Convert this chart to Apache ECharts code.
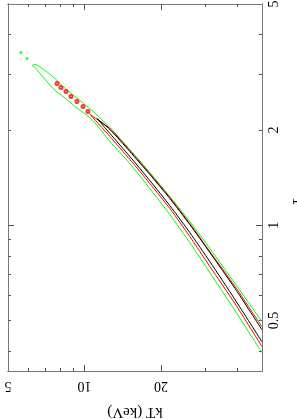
<!DOCTYPE html>
<html><head><meta charset="utf-8">
<script src="https://cdn.jsdelivr.net/npm/echarts@6/dist/echarts.min.js"></script>
<style>html,body{margin:0;padding:0;background:#fff}#c{width:297px;height:419px}</style>
</head><body><div id="c"></div>
<script>
// ---- axis ticks / labels ----
const kTLabels = [5, 10, 20];
const kTMajorTicks = [10, 20];
const kTMinorTicks = [6, 7, 8, 9, 30, 40];
const tauLabels = [0.5, 1, 2, 5];
const tauMajorTicks = [1];
const tauMinorTicks = [0.4, 0.5, 0.6, 0.7, 0.8, 0.9, 2, 3, 4];

// ---- green (outer) contour ----
const greenKT       = [6.39, 6.99, 7.66, 8.23, 9.18, 10.71, 12.6, 15.1, 18.1, 21.7, 26.0, 31.2, 39.2, 50];
const greenUpperTau = [3.221, 3.083, 2.908, 2.744, 2.551, 2.303, 2.035, 1.734, 1.466, 1.231, 1.026, 0.843, 0.653, 0.495];
const greenLowerTau = [3.151, 2.887, 2.665, 2.551, 2.371, 2.158, 1.838, 1.565, 1.305, 1.080, 0.880, 0.707, 0.536, 0.395];
const greenTip = [6.22, 3.197];
const greenIslands = [[5.62, 3.515], [5.94, 3.365]];

// ---- red (middle) contour ----
const redKT       = [12.6, 15.1, 18.1, 21.7, 26.0, 31.2, 39.2, 50];
const redUpperTau = [2.020, 1.721, 1.455, 1.222, 1.011, 0.824, 0.639, 0.477];
const redLowerTau = [1.906, 1.612, 1.353, 1.128, 0.920, 0.739, 0.564, 0.413];
const redTip = [10.52, 2.237];
const redIslands = [[7.80, 2.804], [8.08, 2.723], [8.46, 2.646], [8.85, 2.551], [9.34, 2.460], [9.87, 2.371], [10.32, 2.287]];

// ---- black (inner) contour ----
const blackKT       = [12.6, 15.1, 18.1, 21.7, 26.0, 31.2, 39.2, 50];
const blackUpperTau = [2.005, 1.708, 1.445, 1.213, 1.004, 0.818, 0.630, 0.467];
const blackLowerTau = [1.948, 1.647, 1.383, 1.152, 0.947, 0.766, 0.581, 0.428];
const blackTip = [11.2, 2.173];

function contour(kts, up, lo, tip) {
  const pts = [];
  for (let i = kts.length - 1; i >= 0; i--) pts.push([kts[i], up[i]]);
  pts.push(tip);
  for (let i = 0; i < kts.length; i++) pts.push([kts[i], lo[i]]);
  return pts;
}

const FONT = 'Liberation Serif';
const frameColor = '#777';
const tickColor = '#555';
const kTRange = {min: 5, max: 50};
const tauRange = {min: 0.346, max: 5};

function xAx(position, ticks, len, labels) {
  const a = {
    type: 'log', logBase: 10, min: kTRange.min, max: kTRange.max, position: position,
    axisLine: {show: true, onZero: false, lineStyle: {color: frameColor, width: 1}},
    splitLine: {show: false}, minorTick: {show: false},
    axisTick: {show: true, inside: true, length: len, customValues: ticks, lineStyle: {color: tickColor, width: 1}},
    axisLabel: {show: false}
  };
  if (labels) {
    a.axisLabel = {show: true, customValues: labels, rotate: 180, margin: 8,
      fontFamily: FONT, fontSize: 14, color: '#000', formatter: v => String(v)};
    a.name = 'kT (keV)';
    a.nameLocation = 'middle';
    a.nameRotate = 180;
    a.nameGap = 33;
    a.nameTextStyle = {fontFamily: FONT, fontSize: 15, color: '#000'};
  }
  return a;
}
function yAx(position, ticks, len, labels) {
  const a = {
    type: 'log', logBase: 10, min: tauRange.min, max: tauRange.max, position: position,
    axisLine: {show: true, onZero: false, lineStyle: {color: frameColor, width: 1}},
    splitLine: {show: false}, minorTick: {show: false},
    axisTick: {show: true, inside: true, length: len, customValues: ticks, lineStyle: {color: tickColor, width: 1}},
    axisLabel: {show: false}
  };
  if (labels) {
    a.axisLabel = {show: true, customValues: labels, rotate: 90, margin: 5,
      fontFamily: FONT, fontSize: 14, color: '#000', formatter: v => String(v)};
    a.name = 'τ';
    a.nameLocation = 'middle';
    a.nameRotate = 90;
    a.nameGap = 12;
    a.nameTextStyle = {fontFamily: FONT, fontSize: 15, color: '#000', padding: [0, 28, 0, 0]};
  }
  return a;
}

const chart = echarts.init(document.getElementById('c'), null, {renderer: 'canvas'});
chart.setOption({
  animation: false,
  backgroundColor: '#fff',
  grid: {left: 8, right: 35, top: 4, bottom: 48, containLabel: false, outerBoundsMode: 'none'},
  xAxis: [
    xAx('bottom', kTMajorTicks, 6, kTLabels),
    xAx('bottom', kTMinorTicks, 3, null),
    xAx('top', kTMajorTicks, 6, null),
    xAx('top', kTMinorTicks, 3, null)
  ],
  yAxis: [
    yAx('right', tauMajorTicks, 6, tauLabels),
    yAx('right', tauMinorTicks, 3, null),
    yAx('left', tauMajorTicks, 6, null),
    yAx('left', tauMinorTicks, 3, null)
  ],
  series: [
    {type: 'line', data: contour(greenKT, greenUpperTau, greenLowerTau, greenTip), showSymbol: false, smooth: 0.2,
      lineStyle: {color: '#00ff00', width: 1}, z: 2},
    {type: 'scatter', data: greenIslands, symbol: 'circle', symbolSize: 3, itemStyle: {color: '#00ff00'}, z: 2},
    {type: 'line', data: contour(redKT, redUpperTau, redLowerTau, redTip), showSymbol: false, smooth: 0.2,
      lineStyle: {color: '#ff0000', width: 1}, z: 3},
    {type: 'scatter', data: redIslands, symbol: 'emptyCircle', symbolSize: 3, itemStyle: {color: '#ff0000', borderColor: '#ff0000', borderWidth: 1}, z: 3},
    {type: 'line', data: contour(blackKT, blackUpperTau, blackLowerTau, blackTip), showSymbol: false, smooth: 0.2,
      lineStyle: {color: '#000', width: 1}, z: 4}
  ]
});
</script></body></html>
